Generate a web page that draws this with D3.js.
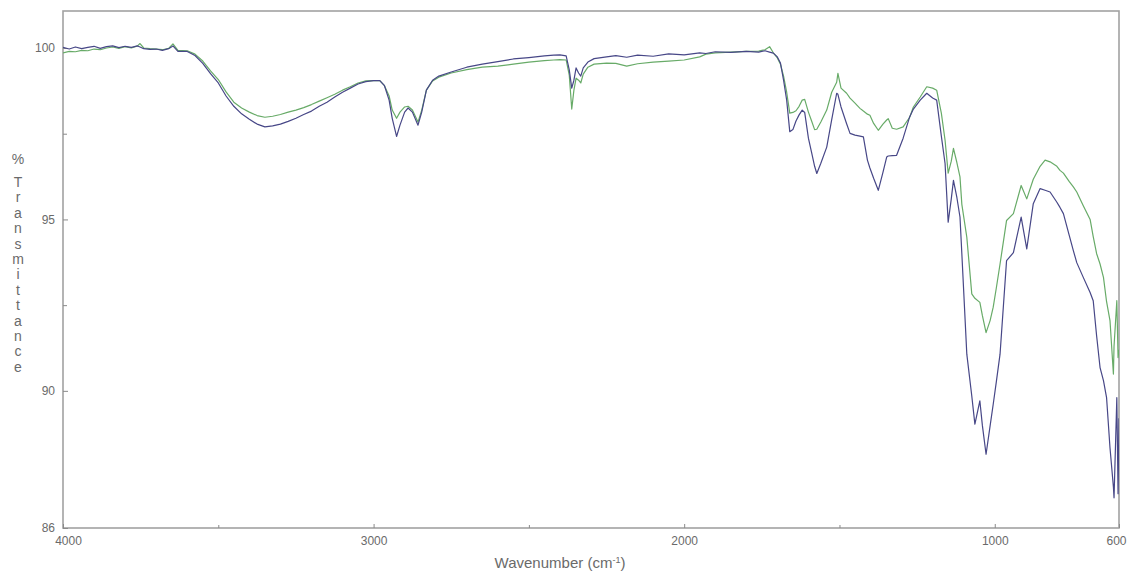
<!DOCTYPE html>
<html>
<head>
<meta charset="utf-8">
<script src="https://cdn.jsdelivr.net/npm/d3@7"></script>
<style>
  body {
    margin: 0;
    background: #ffffff;
    font-family: "Liberation Sans", Arial, sans-serif;
  }
  svg {
    display: block;
  }
</style>
</head>
<body>
<svg id="chart"></svg>
<script>
const wavenumbers = [
  4000, 3980, 3960, 3940, 3920, 3900, 3880, 3860, 3840, 3820, 3800, 3780, 3760, 3752, 3740, 3720,
  3700, 3680, 3660, 3646, 3630, 3600, 3575, 3550, 3525, 3500, 3475, 3450, 3425, 3400, 3375, 3350,
  3325, 3300, 3275, 3250, 3225, 3200, 3175, 3150, 3125, 3100, 3075, 3050, 3025, 3000, 2980, 2965,
  2950, 2940, 2926, 2915, 2900, 2889, 2875, 2857, 2845, 2830, 2810, 2790, 2750, 2700, 2650, 2600,
  2550, 2500, 2450, 2420, 2400, 2380, 2370, 2362, 2355, 2348, 2340, 2333, 2325, 2310, 2290, 2250,
  2220, 2185, 2150, 2100, 2050, 2000, 1950, 1930, 1900, 1850, 1800, 1760, 1740, 1725, 1713, 1700,
  1690, 1680, 1670, 1660, 1650, 1640, 1630, 1620, 1612, 1600, 1590, 1580, 1573, 1560, 1541, 1525,
  1509, 1505, 1495, 1477, 1466, 1450, 1434, 1423, 1410, 1402, 1390, 1375, 1360, 1348, 1343, 1330,
  1316, 1295, 1274, 1262, 1240, 1219, 1200, 1187, 1172, 1160, 1150, 1140, 1133, 1122, 1112, 1106,
  1090, 1074, 1064, 1048, 1040, 1028, 1015, 1005, 995, 983, 962, 940, 915, 897, 876, 854,
  838, 822, 800, 790, 779, 760, 747, 736, 715, 693, 683, 672, 661, 650, 640, 629,
  618, 616, 607, 603, 600
];

// blue trace
const sampleA = [
  100.02, 99.97, 100.03, 99.98, 100.02, 100.05, 99.99, 100.04, 100.06, 100.01, 100.05, 100.02, 100.06, 100.03, 99.98, 99.96,
  99.97, 99.93, 99.98, 100.06, 99.90, 99.90, 99.78, 99.55, 99.25, 98.98, 98.60, 98.30, 98.08, 97.92, 97.78, 97.70,
  97.73, 97.78, 97.86, 97.95, 98.06, 98.16, 98.30, 98.42, 98.57, 98.71, 98.83, 98.95, 99.02, 99.05, 99.05, 98.90,
  98.48, 97.95, 97.42, 97.75, 98.13, 98.25, 98.13, 97.75, 98.13, 98.77, 99.06, 99.18, 99.30, 99.44, 99.53, 99.60,
  99.68, 99.72, 99.77, 99.79, 99.80, 99.77, 99.36, 98.83, 99.06, 99.42, 99.27, 99.18, 99.42, 99.59, 99.69, 99.74,
  99.78, 99.73, 99.79, 99.76, 99.83, 99.80, 99.86, 99.84, 99.89, 99.87, 99.90, 99.88, 99.92, 99.88, 99.85, 99.74,
  99.56, 99.06, 98.48, 97.56, 97.62, 97.87, 98.05, 98.19, 98.12, 97.37, 96.96, 96.55, 96.34, 96.64, 97.11, 97.91,
  98.68, 98.65, 98.28, 97.79, 97.51, 97.46, 97.43, 97.41, 96.73, 96.50, 96.20, 95.85, 96.37, 96.82, 96.85, 96.86,
  96.87, 97.37, 97.99, 98.22, 98.48, 98.68, 98.54, 98.48, 97.43, 96.63, 94.92, 95.60, 96.14, 95.64, 95.07, 94.00,
  91.07, 89.85, 89.03, 89.71, 89.00, 88.15, 88.98, 89.61, 90.26, 91.07, 93.80, 94.03, 95.07, 94.14, 95.46, 95.90,
  95.85, 95.80, 95.50, 95.35, 95.17, 94.53, 94.09, 93.74, 93.31, 92.87, 92.63, 91.60, 90.68, 90.30, 89.80, 88.34,
  87.20, 86.88, 89.80, 87.00, 89.20
];

// green trace
const sampleB = [
  99.86, 99.90, 99.89, 99.93, 99.92, 99.97, 99.95, 100.00, 100.03, 99.99, 100.04, 100.00, 100.06, 100.13, 100.00, 99.98,
  99.97, 99.95, 99.99, 100.12, 99.93, 99.92, 99.82, 99.62, 99.33, 99.08, 98.72, 98.42, 98.25, 98.13, 98.03, 97.98,
  98.01, 98.06, 98.13, 98.19, 98.26, 98.35, 98.45, 98.55, 98.65, 98.77, 98.87, 98.98, 99.04, 99.05, 99.05, 98.90,
  98.60, 98.19, 97.95, 98.13, 98.28, 98.30, 98.19, 97.84, 98.19, 98.77, 99.04, 99.15, 99.27, 99.37, 99.44, 99.47,
  99.53, 99.59, 99.63, 99.65, 99.66, 99.65, 99.21, 98.22, 98.77, 99.12, 99.06, 98.98, 99.24, 99.44, 99.53, 99.56,
  99.55, 99.47, 99.54, 99.59, 99.62, 99.65, 99.74, 99.82, 99.86, 99.88, 99.90, 99.91, 99.95, 100.04, 99.86, 99.71,
  99.53, 99.18, 98.71, 98.10, 98.12, 98.17, 98.30, 98.48, 98.50, 98.13, 97.88, 97.62, 97.63, 97.84, 98.19, 98.71,
  99.00, 99.26, 98.83, 98.68, 98.54, 98.39, 98.24, 98.16, 98.07, 98.04, 97.80, 97.60, 97.78, 97.90, 97.94, 97.66,
  97.63, 97.70, 97.98, 98.28, 98.57, 98.87, 98.83, 98.77, 98.10, 97.31, 96.35, 96.70, 97.07, 96.66, 96.24, 95.44,
  94.48, 92.83, 92.70, 92.58, 92.20, 91.70, 92.05, 92.44, 93.00, 93.70, 94.97, 95.17, 95.99, 95.60, 96.17, 96.55,
  96.73, 96.68, 96.55, 96.43, 96.35, 96.10, 95.95, 95.80, 95.40, 95.00, 94.50, 94.00, 93.70, 93.31, 92.60, 92.05,
  90.49, 91.30, 92.63, 90.97, 91.20
];

const xMajorTicks = [4000, 3000, 2000, 1000, 600];
const xMinorTicks = [3500, 2500, 1500];
const yMajorTicks = [100, 95, 90, 86];
const yMinorTicks = [97.5, 92.5];
const yTitleChars = ["%", "T", "r", "a", "n", "s", "m", "i", "t", "t", "a", "n", "c", "e"];

function renderChart() {
  const width = 1128;
  const height = 574;
  const plot = { left: 63, right: 1119, top: 11, bottom: 528 };
  const axisColor = "#a2a2a2";
  const textColor = "#6a6a6a";

  const svg = d3.select("#chart").attr("width", width).attr("height", height);

  const x = d3.scaleLinear().domain([4000, 600]).range([plot.left, plot.right]);
  const y = d3.scaleLinear().domain([86, 100 + 37 / 34.2857]).range([plot.bottom, plot.top]);

  svg.append("defs").append("clipPath").attr("id", "plot-clip")
    .append("rect")
    .attr("x", plot.left)
    .attr("y", plot.top - 2)
    .attr("width", plot.right - plot.left)
    .attr("height", plot.bottom - plot.top + 2);

  // frame
  svg.append("rect")
    .attr("x", plot.left)
    .attr("y", plot.top)
    .attr("width", plot.right - plot.left)
    .attr("height", plot.bottom - plot.top)
    .attr("fill", "none")
    .attr("stroke", axisColor)
    .attr("stroke-width", 1.6);

  function styleAxis(g) {
    g.select(".domain").remove();
    g.selectAll(".tick line").attr("stroke", "#8a8a8a").attr("stroke-width", 1);
    g.selectAll(".tick text")
      .attr("fill", textColor)
      .style("font-size", "12px")
      .style("font-family", "'Liberation Sans', Arial, sans-serif");
  }

  svg.append("g")
    .attr("transform", "translate(0," + plot.bottom + ")")
    .call(d3.axisBottom(x).tickValues(xMajorTicks).tickFormat(d3.format("d")).tickSize(-4).tickPadding(8))
    .call(styleAxis)
    .call(function(g) {
      g.selectAll(".tick text").filter(function(d) { return d === 4000; }).attr("dx", 5);
      g.selectAll(".tick text").filter(function(d) { return d === 600; }).attr("dx", -3);
    });

  svg.append("g")
    .attr("transform", "translate(0," + plot.bottom + ")")
    .call(d3.axisBottom(x).tickValues(xMinorTicks).tickFormat("").tickSize(-3))
    .call(styleAxis);

  svg.append("g")
    .attr("transform", "translate(" + plot.left + ",0)")
    .call(d3.axisLeft(y).tickValues(yMajorTicks).tickFormat(d3.format("d")).tickSize(-5).tickPadding(8))
    .call(styleAxis);

  svg.append("g")
    .attr("transform", "translate(" + plot.left + ",0)")
    .call(d3.axisLeft(y).tickValues(yMinorTicks).tickFormat("").tickSize(-4))
    .call(styleAxis);

  const line = d3.line()
    .x(function(d) { return x(d[0]); })
    .y(function(d) { return y(d[1]); });

  const series = [
    { values: sampleB, color: "#68ab68" },
    { values: sampleA, color: "#474787" }
  ];

  series.forEach(function(s) {
    svg.append("path")
      .datum(wavenumbers.map(function(w, i) { return [w, s.values[i]]; }))
      .attr("clip-path", "url(#plot-clip)")
      .attr("fill", "none")
      .attr("stroke", s.color)
      .attr("stroke-width", 1.2)
      .attr("stroke-linejoin", "round")
      .attr("d", line);
  });

  // x axis title
  const xTitle = svg.append("text")
    .attr("x", 560)
    .attr("y", 568)
    .attr("text-anchor", "middle")
    .attr("fill", textColor)
    .style("font-size", "15px");
  xTitle.append("tspan").text("Wavenumber (cm");
  xTitle.append("tspan").attr("dy", -5).style("font-size", "9px").text("-1");
  xTitle.append("tspan").attr("dy", 5).text(")");

  // y axis title, one upright letter per line
  svg.append("g")
    .selectAll("text")
    .data(yTitleChars)
    .join("text")
    .attr("x", 18)
    .attr("y", function(d, i) { return i === 0 ? 159 : 182 + (i - 1) * 15.4; })
    .attr("text-anchor", "middle")
    .attr("dominant-baseline", "central")
    .attr("fill", textColor)
    .style("font-size", "14px")
    .text(function(d) { return d; });
}

renderChart();
</script>
</body>
</html>
